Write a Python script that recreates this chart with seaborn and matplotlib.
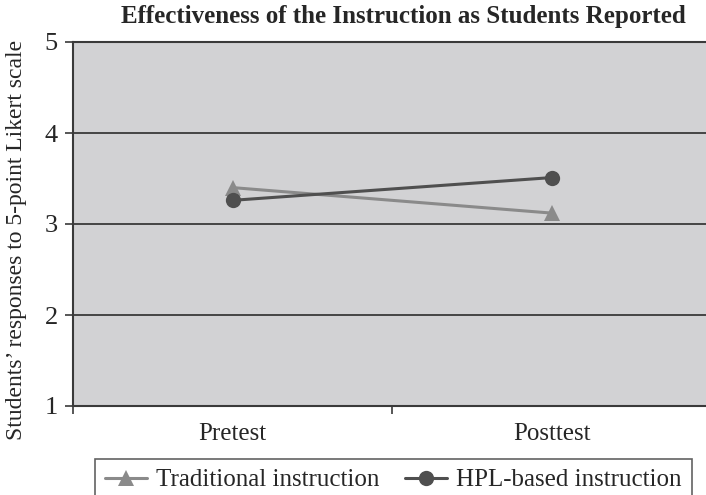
import matplotlib
matplotlib.use("Agg")
import matplotlib.pyplot as plt
import seaborn as sns
import pandas as pd
from matplotlib.ticker import FixedLocator

categories = ["Pretest", "Posttest"]
traditional = [3.40, 3.12]
hpl = [3.26, 3.51]
series_names = ["Traditional instruction", "HPL-based instruction"]
yticks = [1, 2, 3, 4, 5]

df = pd.DataFrame({
    "Test": categories * 2,
    "Score": traditional + hpl,
    "Group": [series_names[0]] * 2 + [series_names[1]] * 2,
})

sns.set_style("white")
plt.rcParams["font.family"] = ["Liberation Serif", "DejaVu Serif"]

fig = plt.figure(figsize=(7.06, 4.95), dpi=100)
W, H = 706, 495
ax = fig.add_axes([73 / W, 1 - 406 / H, (711 - 73) / W, (406 - 42) / H])
ax.set_facecolor("#d2d2d4")

palette = {series_names[0]: "#8a8a8a", series_names[1]: "#4f4f4f"}
markers = {series_names[0]: "^", series_names[1]: "o"}
sns.lineplot(data=df, x="Test", y="Score", hue="Group", style="Group",
             palette=palette, markers=markers, dashes=False, linewidth=2.2,
             markersize=11, markeredgewidth=0, ax=ax, sort=False)

ax.set_xlim(-0.5, 1.5)
ax.set_ylim(1, 5)
ax.set_yticks(yticks)
ax.yaxis.grid(True, color="#3a3a3a", linewidth=1.3)
ax.xaxis.grid(False)
ax.set_axisbelow(True)

for s in ["left", "bottom", "top"]:
    ax.spines[s].set_visible(True)
    ax.spines[s].set_color("#3a3a3a")
    ax.spines[s].set_linewidth(1.5)
ax.spines["right"].set_visible(False)

ax.tick_params(axis="y", which="major", left=True, length=6, width=1.2,
               color="#3a3a3a", labelsize=19, pad=5)
ax.tick_params(axis="x", which="major", length=0, labelsize=18, pad=12)
ax.xaxis.set_minor_locator(FixedLocator([-0.5, 0.5, 1.5]))
ax.tick_params(axis="x", which="minor", bottom=True, length=6, width=1.2,
               color="#3a3a3a")

ax.set_xlabel("")
ax.set_ylabel("Students’ responses to 5-point Likert scale", fontsize=17)
ax.yaxis.set_label_coords((27 - 73) / 638, (406 - 240) / 364)

fig.suptitle("Effectiveness of the Instruction as Students Reported",
             x=403 / W, y=1 - 17 / H, fontsize=18, fontweight="bold", va="center")

handles, labels = ax.get_legend_handles_labels()
ax.get_legend().remove()
leg = fig.legend(handles, labels, loc="upper left", bbox_to_anchor=(95 / W, 1 - 459 / H),
                 ncol=2, fontsize=18, frameon=True, fancybox=False,
                 edgecolor="#3a3a3a", handlelength=1.7, columnspacing=1.0,
                 handletextpad=0.36, borderpad=0.4, borderaxespad=0)
leg.get_frame().set_linewidth(1.2)

fig.savefig("out.png", dpi=100)
